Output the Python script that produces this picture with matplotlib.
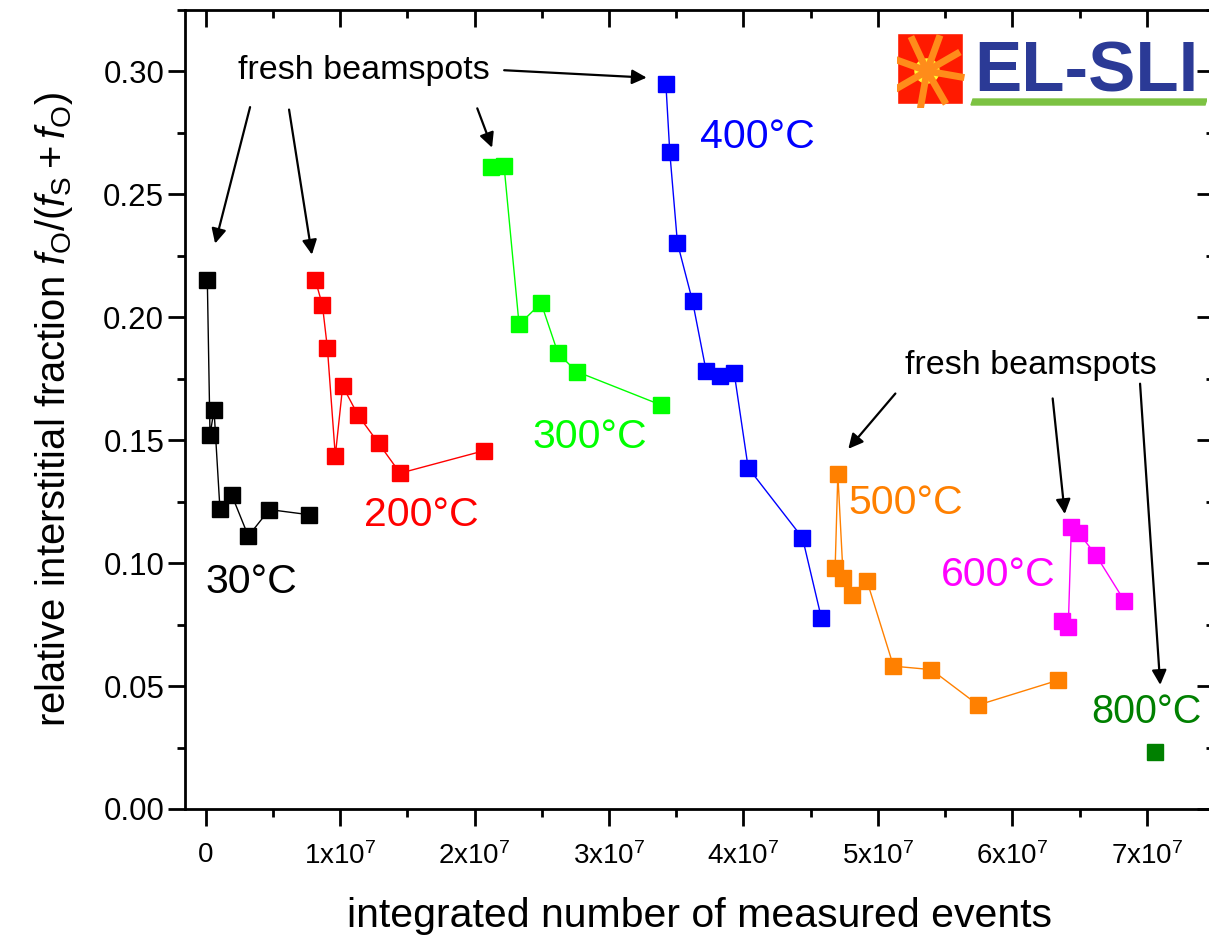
import matplotlib
matplotlib.use('Agg')
import matplotlib.pyplot as plt
from matplotlib.ticker import MultipleLocator, FuncFormatter
from matplotlib.patches import Rectangle, Circle, Polygon
import numpy as np

plt.rcParams['font.family'] = ['Liberation Sans', 'DejaVu Sans']
plt.rcParams['mathtext.fontset'] = 'custom'
plt.rcParams['mathtext.rm'] = 'Liberation Sans'
plt.rcParams['mathtext.it'] = 'Liberation Sans:italic'

# data (x in units of 1e7 events)
x30 = [0.012, 0.032, 0.062, 0.106, 0.193, 0.317, 0.473, 0.769]
y30 = [0.2152, 0.1522, 0.1623, 0.1220, 0.1278, 0.1110, 0.1218, 0.1197]

x200 = [0.816, 0.868, 0.905, 0.964, 1.019, 1.133, 1.287, 1.446, 2.068]
y200 = [0.2150, 0.2050, 0.1876, 0.1437, 0.1720, 0.1602, 0.1487, 0.1366, 0.1457]

x300 = [2.123, 2.219, 2.331, 2.495, 2.621, 2.760, 3.388]
y300 = [0.2610, 0.2617, 0.1971, 0.2058, 0.1853, 0.1779, 0.1643]

x400 = [3.423, 3.452, 3.509, 3.621, 3.723, 3.822, 3.931, 4.035, 4.439, 4.580]
y400 = [0.2949, 0.2671, 0.2302, 0.2066, 0.1780, 0.1762, 0.1774, 0.1388, 0.1103, 0.0776]

x500 = [4.682, 4.702, 4.742, 4.811, 4.918, 5.116, 5.397, 5.746, 6.342]
y500 = [0.0982, 0.1362, 0.0940, 0.0871, 0.0929, 0.0581, 0.0567, 0.0423, 0.0524]

x600 = [6.373, 6.416, 6.439, 6.495, 6.619, 6.833]
y600 = [0.0765, 0.0742, 0.1148, 0.1122, 0.1035, 0.0847]

x800 = [7.063]
y800 = [0.0230]

series = [
    (x30, y30, 'black', '30°C', (0.0, 0.0925)),
    (x200, y200, '#ff0000', '200°C', (1.18, 0.1195)),
    (x300, y300, '#00ff00', '300°C', (2.43, 0.1515)),
    (x400, y400, '#0000ff', '400°C', (3.68, 0.2735)),
    (x500, y500, '#ff8000', '500°C', (4.78, 0.1245)),
    (x600, y600, '#ff00ff', '600°C', (5.47, 0.0950)),
    (x800, y800, '#008000', '800°C', (6.59, 0.0395)),
]

fig = plt.figure(figsize=(12.09, 9.36), dpi=100)
ax = fig.add_axes([185/1209, 1 - 809/936, 1029/1209, 799/936])

for xs, ys, c, lab, pos in series:
    ax.plot(np.array(xs)*1e7, ys, '-', color=c, lw=1.0, marker='s', ms=11.5,
            mec=c, mfc=c)
    fs = 28.5 if lab == '800°C' else 29.5
    ax.text(pos[0]*1e7, pos[1], lab, color=c, fontsize=fs, va='center', ha='left')

ax.set_xlim(-0.154e7, 7.5e7)
ax.set_ylim(0, 0.325)

ax.xaxis.set_major_locator(MultipleLocator(1e7))
ax.xaxis.set_minor_locator(MultipleLocator(0.5e7))
ax.yaxis.set_major_locator(MultipleLocator(0.05))
ax.yaxis.set_minor_locator(MultipleLocator(0.025))

def xfmt(v, p):
    n = int(round(v/1e7))
    if n == 0:
        return '0'
    return '%dx10$^{7}$' % n
ax.xaxis.set_major_formatter(FuncFormatter(xfmt))
ax.yaxis.set_major_formatter(FuncFormatter(lambda v, p: '%.2f' % v))

ax.tick_params(which='both', top=True, right=True, width=2)
ax.tick_params(axis='x', which='both', direction='out', labelsize=20, pad=12)
ax.tick_params(axis='y', which='both', direction='out', labelsize=22.5, pad=3)
ax.tick_params(which='major', length=12)
ax.tick_params(which='minor', length=6)
# top / right ticks point inward
for t in ax.xaxis.get_major_ticks() + ax.xaxis.get_minor_ticks():
    t.tick2line.set_marker(3)
for t in ax.yaxis.get_major_ticks() + ax.yaxis.get_minor_ticks():
    t.tick2line.set_marker(0)
for s in ax.spines.values():
    s.set_linewidth(2)

ax.set_xlabel('integrated number of measured events', fontsize=29.5, labelpad=19)
ax.set_ylabel('relative interstitial fraction $f_{\\mathrm{O}}/(f_{\\mathrm{S}}+f_{\\mathrm{O}})$',
              fontsize=28.8, labelpad=20)

# annotations
ax.text(0.24e7, 0.3005, 'fresh beamspots', fontsize=24.5, va='center', ha='left')
ax.text(5.2e7, 0.1805, 'fresh beamspots', fontsize=24.5, va='center', ha='left')

arrows = [
    ((0.33e7, 0.2855), (0.07e7, 0.2300)),
    ((0.62e7, 0.2845), (0.79e7, 0.2255)),
    ((2.02e7, 0.2850), (2.13e7, 0.2690)),
    ((2.22e7, 0.3005), (3.28e7, 0.2975)),
    ((5.13e7, 0.1690), (4.78e7, 0.1465)),
    ((6.30e7, 0.1670), (6.39e7, 0.1200)),
    ((6.95e7, 0.1730), (7.10e7, 0.0505)),
]
for (x0, y0), (x1, y1) in arrows:
    ax.annotate('', xy=(x1, y1), xytext=(x0, y0),
                arrowprops=dict(arrowstyle='-|>', color='black', lw=1.6,
                                mutation_scale=22, shrinkA=0, shrinkB=0))

# logo in the top right corner
lax = fig.add_axes([897/1209, 1 - 108/936, 310/1209, 76/936])
lax.set_xlim(0, 310)
lax.set_ylim(76, 0)
lax.axis('off')
lax.add_patch(Rectangle((0, 1), 66, 71, color='#ff1a00'))
for ang in np.deg2rad([10, 60, 100, 150, 200, 245, 290, 330]):
    lax.plot([30, 30 + 38*np.cos(ang)], [39, 39 + 38*np.sin(ang)],
             color='#ff8c1a', lw=5, solid_capstyle='butt')
lax.add_patch(Rectangle((-2, -6), 2, 84, color='white'))
lax.add_patch(Rectangle((66, -6), 6, 84, color='white'))
lax.add_patch(Rectangle((-2, -6), 76, 7, color='white'))
lax.add_patch(Rectangle((-2, 72), 76, 6, color='white'))
lax.add_patch(Circle((30, 39), 12, color='#ffff33'))
lax.add_patch(Circle((30, 39), 7, color='#33cc66'))
lax.add_patch(Circle((30, 39), 4, color='#0033cc'))
lax.text(77, 60, 'EL-SLI', color='#2b3a96', fontsize=51, fontweight='bold',
         va='baseline', ha='left')
lax.add_patch(Polygon([[76, 67], [310, 67], [308, 73], [74, 73]], color='#7cc242'))

plt.savefig('out.png', dpi=100)
